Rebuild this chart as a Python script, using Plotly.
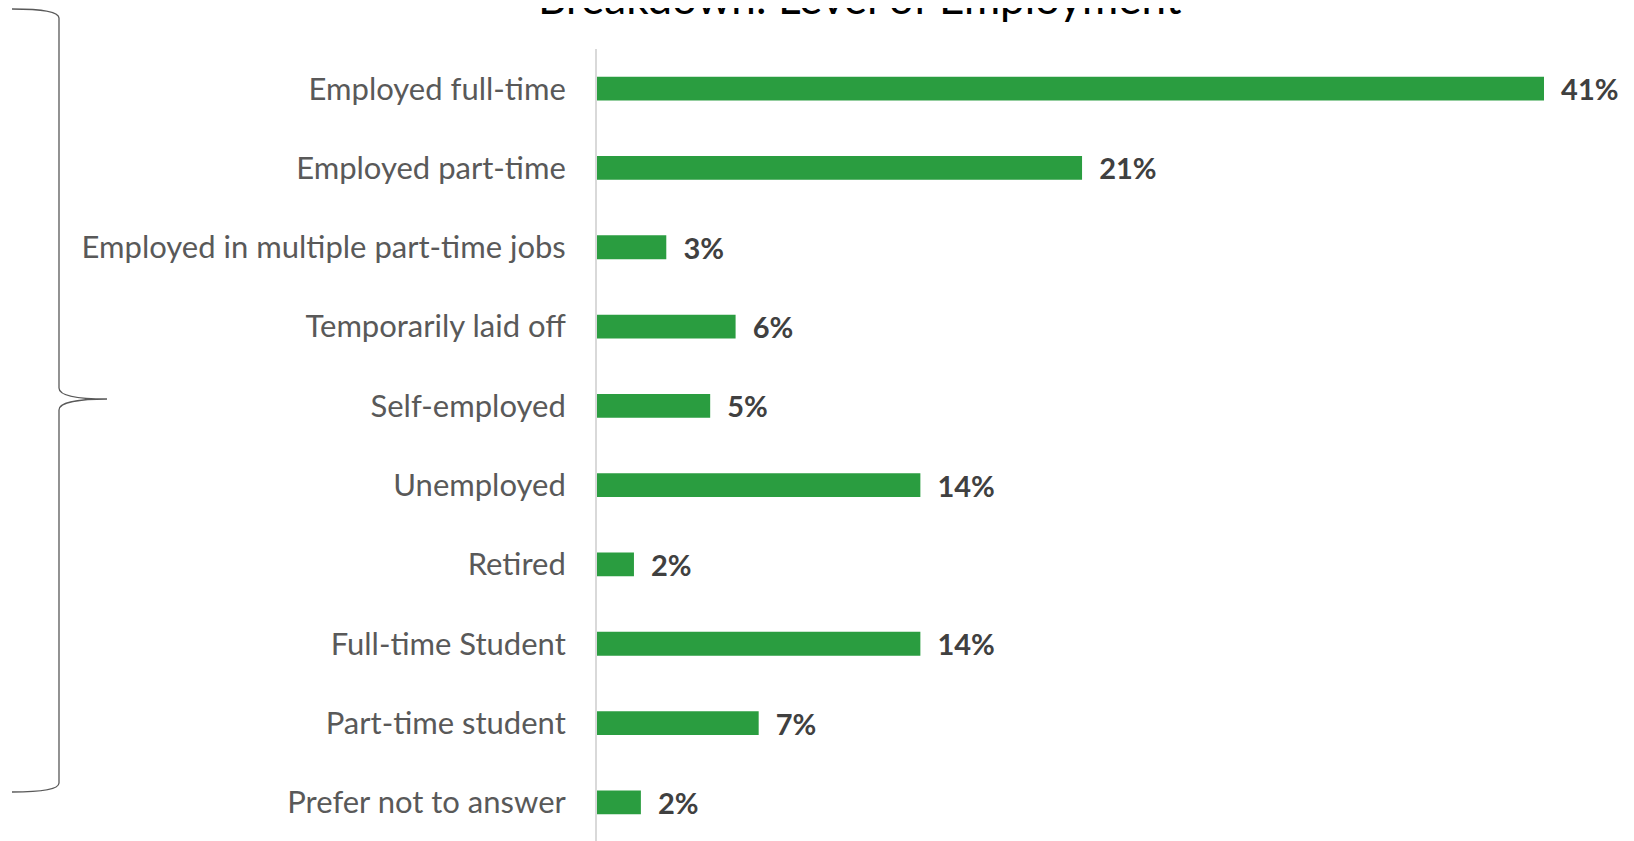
import plotly.graph_objects as go

# survey data
categories = [
    "Employed full-time",
    "Employed part-time",
    "Employed in multiple part-time jobs",
    "Temporarily laid off",
    "Self-employed",
    "Unemployed",
    "Retired",
    "Full-time Student",
    "Part-time student",
    "Prefer not to answer",
]
values = [41, 21, 3, 6, 4.9, 14, 1.6, 14, 7, 1.9]
value_labels = ["41%", "21%", "3%", "6%", "5%", "14%", "2%", "14%", "7%", "2%"]

title_text = "Breakdown: Level of Employment"

W, H = 1634, 841
bar_green = "rgb(42,157,64)"

fig = go.Figure()

fig.add_trace(
    go.Bar(
        y=categories,
        x=values,
        orientation="h",
        marker=dict(color=bar_green, line=dict(width=0)),
        width=0.3,
        text=["\u00a0\u00a0" + t for t in value_labels],
        textposition="outside",
        constraintext="none",
        cliponaxis=False,
        textfont=dict(family="Lato", size=29, color="#404040", weight="bold"),
        hoverinfo="skip",
    )
)


def px(x, y):
    # pixel -> paper coords (margins are zero)
    return f"{x / W:.5f},{1 - y / H:.5f}"


# curly brace on the left
brace = (
    f"M {px(4, 1)} "
    f"C {px(32, 1)} {px(51, 3)} {px(51, 10)} "
    f"L {px(51, 380)} "
    f"C {px(51, 388)} {px(72, 391)} {px(99, 391)} "
    f"C {px(72, 391)} {px(51, 394)} {px(51, 402)} "
    f"L {px(51, 775)} "
    f"C {px(51, 782)} {px(32, 784)} {px(4, 784)}"
)
fig.add_shape(
    type="path",
    path=brace,
    xref="paper",
    yref="paper",
    line=dict(color="#595959", width=1.3),
)

fig.add_annotation(
    text=title_text,
    xref="paper",
    yref="paper",
    x=852 / W,
    y=1 + 11 / H,
    xanchor="center",
    yanchor="middle",
    showarrow=False,
    font=dict(family="Lato", size=44, color="#000000"),
)

fig.update_layout(
    width=W,
    height=H,
    margin=dict(l=0, r=0, t=0, b=0),
    paper_bgcolor="white",
    plot_bgcolor="white",
    showlegend=False,
    bargap=0.7,
)

fig.update_xaxes(
    domain=[589 / W, 1],
    range=[0, (W - 589) / 947 * 41],
    visible=False,
)

fig.update_yaxes(
    domain=[1 - 834 / H, 1 - 41 / H],
    autorange=False,
    range=[9.5, -0.5],
    showline=True,
    linecolor="#d9d9d9",
    linewidth=2,
    showgrid=False,
    ticks="",
    ticklabelstandoff=23,
    automargin=False,
    tickfont=dict(family="Lato", size=31, color="#595959"),
)

fig.write_html("out.html")
